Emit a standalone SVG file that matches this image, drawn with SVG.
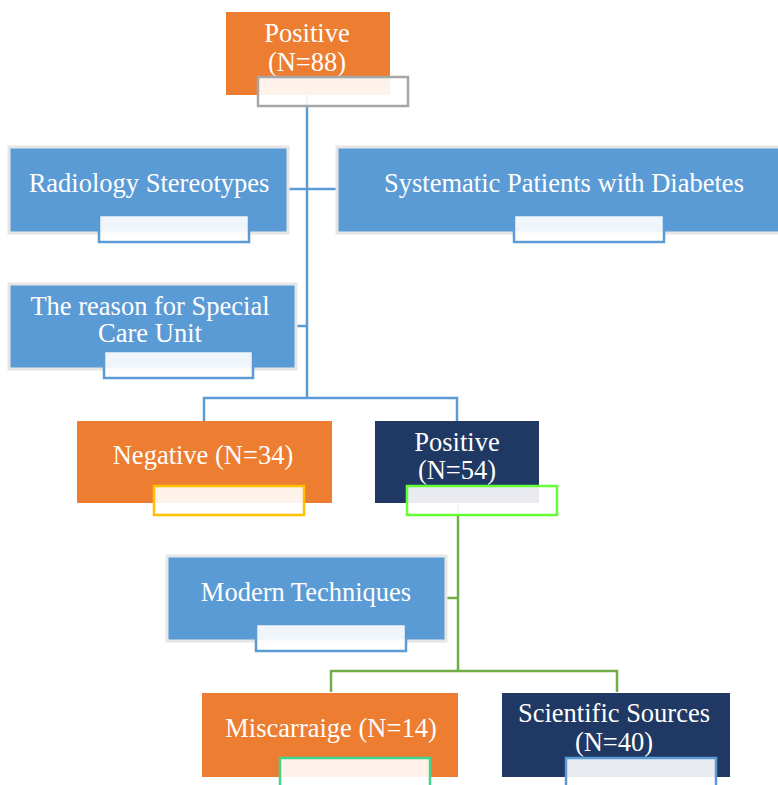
<svg xmlns="http://www.w3.org/2000/svg" width="778" height="785" viewBox="0 0 778 785">
<style>
.t{font-family:"Liberation Serif","Times New Roman",serif;font-size:26.5px;fill:#ffffff;text-anchor:middle}
.or{fill:#ed7d31}
.bl{fill:#5b9bd5;stroke:#e6e6e6;stroke-width:3}
.nv{fill:#203864}
.tb{fill:#ffffff;fill-opacity:0.9;stroke-width:2.5}
.cb{fill:none;stroke:#5b9bd5;stroke-width:2.5}
.cg{fill:none;stroke:#70ad47;stroke-width:2.5}
</style>
<rect width="778" height="785" fill="#ffffff"/>
<g id="connectors">
<path class="cb" d="M307,95 V398"/>
<path class="cb" d="M288,189 H337"/>
<path class="cb" d="M296,326 H307"/>
<path class="cb" d="M204,421 V398 H457 V421"/>
<path class="cg" d="M458,505 V671"/>
<path class="cg" d="M446,598 H458"/>
<path class="cg" d="M331,692 V671 H617 V692"/>
</g>
<g id="node-positive-88">
<rect class="or" x="226" y="12" width="164" height="83"/>
<text class="t" x="307" y="42">Positive</text>
<text class="t" x="307" y="71">(N=88)</text>
<rect class="tb" x="258" y="77" width="150" height="29" stroke="#a6a6a6"/>
</g>
<g id="node-radiology">
<rect class="bl" x="9" y="147" width="279" height="86"/>
<text class="t" x="149" y="192">Radiology Stereotypes</text>
<rect class="tb" x="99" y="215" width="150" height="27" stroke="#5b9bd5"/>
</g>
<g id="node-systematic">
<rect class="bl" x="337" y="147" width="456" height="86"/>
<text class="t" x="564" y="192">Systematic Patients with Diabetes</text>
<rect class="tb" x="514" y="215" width="150" height="27" stroke="#5b9bd5"/>
</g>
<g id="node-special-care">
<rect class="bl" x="9" y="284" width="287" height="85"/>
<text class="t" x="150" y="315">The reason for Special</text>
<text class="t" x="150" y="342">Care Unit</text>
<rect class="tb" x="104" y="351" width="149" height="27" stroke="#5b9bd5"/>
</g>
<g id="node-negative-34">
<rect class="or" x="77" y="421" width="255" height="82"/>
<text class="t" x="203" y="464">Negative (N=34)</text>
<rect class="tb" x="154" y="486" width="150" height="29" stroke="#ffc000"/>
</g>
<g id="node-positive-54">
<rect class="nv" x="375" y="421" width="164" height="82"/>
<text class="t" x="457" y="451">Positive</text>
<text class="t" x="457" y="479">(N=54)</text>
<rect class="tb" x="407" y="486" width="150" height="29" stroke="#66ff33"/>
</g>
<g id="node-modern">
<rect class="bl" x="167" y="556" width="279" height="85"/>
<text class="t" x="306" y="601">Modern Techniques</text>
<rect class="tb" x="256" y="624" width="150" height="27" stroke="#5b9bd5"/>
</g>
<g id="node-miscarraige">
<rect class="or" x="202" y="693" width="256" height="84"/>
<text class="t" x="331" y="737">Miscarraige (N=14)</text>
<rect class="tb" x="280" y="758" width="150" height="40" stroke="#43d48c"/>
</g>
<g id="node-scientific">
<rect class="nv" x="502" y="693" width="228" height="84"/>
<text class="t" x="614" y="722">Scientific Sources</text>
<text class="t" x="614" y="751">(N=40)</text>
<rect class="tb" x="566" y="758" width="150" height="40" stroke="#5b9bd5"/>
</g>
</svg>
